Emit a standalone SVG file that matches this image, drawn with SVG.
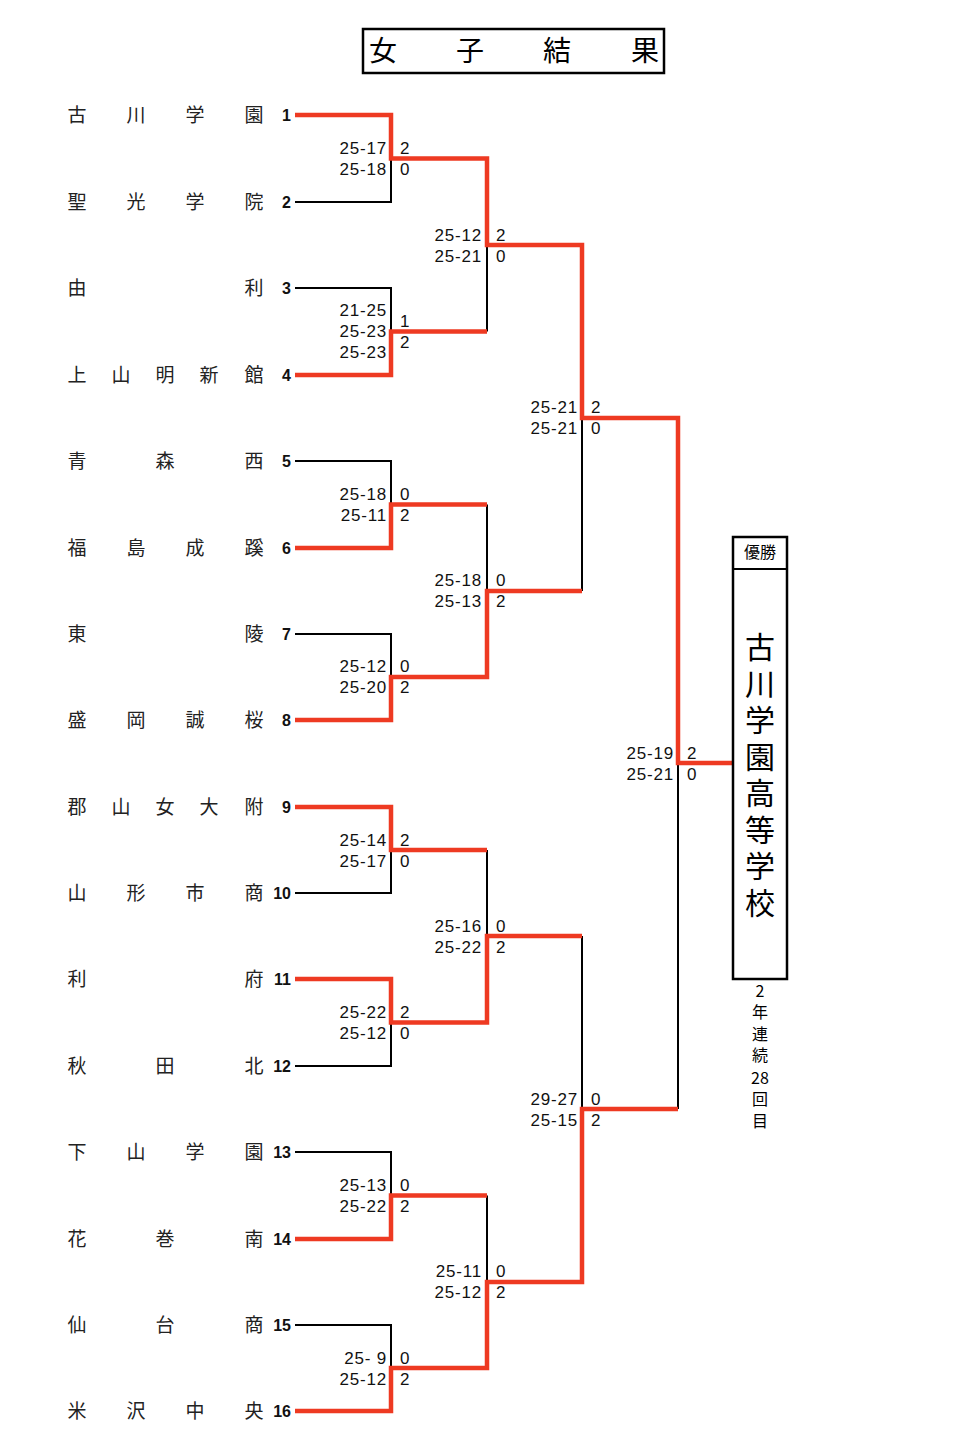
<svg xmlns="http://www.w3.org/2000/svg" width="963" height="1437" viewBox="0 0 963 1437">
<style>
.bg{fill:#fff}
.name{font-family:"Noto Sans CJK JP","Noto Sans CJK SC",sans-serif;font-size:19px;fill:#222;text-anchor:middle}
.num{font-family:"Liberation Sans",Arial,sans-serif;font-size:16px;font-weight:bold;fill:#111;text-anchor:end}
.sc{font-family:"Liberation Sans",Arial,sans-serif;font-size:17px;letter-spacing:0.8px;fill:#111;white-space:pre}
.scl{text-anchor:end}
.title{font-family:"Noto Sans CJK JP",sans-serif;font-size:28px;fill:#000;text-anchor:middle}
.box{fill:none;stroke:#000;stroke-width:2.5}
.win{font-family:"Noto Sans CJK JP",sans-serif;fill:#000;text-anchor:middle}
.vert{font-family:"Noto Sans CJK JP",sans-serif;fill:#000;writing-mode:vertical-rl;text-orientation:upright}
.big{font-size:30px;letter-spacing:6.5px}
.sm{font-size:16px}
.smv{font-size:16px;letter-spacing:5.5px}
.blk{fill:none;stroke:#000;stroke-width:2}
.red{fill:none;stroke:#ee3a22;stroke-width:4.5;stroke-linejoin:miter;stroke-linecap:butt}
</style>
<rect class="bg" x="0" y="0" width="963" height="1437"/>
<g id="title">
<rect class="box" x="363" y="29" width="301" height="44"/>
<text class="title" x="383 470 557 645" y="61">女子結果</text>
</g>
<g id="connectors">
<path class="blk" d="M295,202H391V158.5 M295,288H391V331.5 M295,461H391V504.5 M295,634H391V677 M295,893H391V850 M295,1066H391V1022.5 M295,1152H391V1195.5 M295,1325H391V1368"/>
<path class="blk" d="M487,331.5V245 M487,504.5V591 M487,850V936 M487,1195.5V1282 M582,591V418 M582,936V1109 M678,1109V763"/>
<path class="red" d="M295,115H391V158.5H487V245H582V418H678V763H733"/>
<path class="red" d="M295,375H391V331.5H487"/>
<path class="red" d="M295,548H391V504.5H487"/>
<path class="red" d="M295,720H391V677H487V591H582"/>
<path class="red" d="M295,807H391V850H487"/>
<path class="red" d="M295,979H391V1022.5H487V936H582"/>
<path class="red" d="M295,1239H391V1195.5H487"/>
<path class="red" d="M295,1411H391V1368H487V1282H582V1109H678"/>
</g>
<g id="team1"><text class="name" x="77 136 195 254" y="122">古川学園</text><text class="num" x="291" y="121">1</text></g>
<g id="team2"><text class="name" x="77 136 195 254" y="209">聖光学院</text><text class="num" x="291" y="208">2</text></g>
<g id="team3"><text class="name" x="77 254" y="295">由利</text><text class="num" x="291" y="294">3</text></g>
<g id="team4"><text class="name" x="77 121 165 209 254" y="382">上山明新館</text><text class="num" x="291" y="381">4</text></g>
<g id="team5"><text class="name" x="77 165 254" y="468">青森西</text><text class="num" x="291" y="467">5</text></g>
<g id="team6"><text class="name" x="77 136 195 254" y="555">福島成蹊</text><text class="num" x="291" y="554">6</text></g>
<g id="team7"><text class="name" x="77 254" y="641">東陵</text><text class="num" x="291" y="640">7</text></g>
<g id="team8"><text class="name" x="77 136 195 254" y="727">盛岡誠桜</text><text class="num" x="291" y="726">8</text></g>
<g id="team9"><text class="name" x="77 121 165 209 254" y="814">郡山女大附</text><text class="num" x="291" y="813">9</text></g>
<g id="team10"><text class="name" x="77 136 195 254" y="900">山形市商</text><text class="num" x="291" y="899">10</text></g>
<g id="team11"><text class="name" x="77 254" y="986">利府</text><text class="num" x="291" y="985">11</text></g>
<g id="team12"><text class="name" x="77 165 254" y="1073">秋田北</text><text class="num" x="291" y="1072">12</text></g>
<g id="team13"><text class="name" x="77 136 195 254" y="1159">下山学園</text><text class="num" x="291" y="1158">13</text></g>
<g id="team14"><text class="name" x="77 165 254" y="1246">花巻南</text><text class="num" x="291" y="1245">14</text></g>
<g id="team15"><text class="name" x="77 165 254" y="1332">仙台商</text><text class="num" x="291" y="1331">15</text></g>
<g id="team16"><text class="name" x="77 136 195 254" y="1418">米沢中央</text><text class="num" x="291" y="1417">16</text></g>
<g id="scores">
<text class="sc scl" x="387" y="154">25-17</text><text class="sc scl" x="387" y="175">25-18</text><text class="sc" x="400" y="154">2</text><text class="sc" x="400" y="175">0</text>
<text class="sc scl" x="387" y="316">21-25</text><text class="sc scl" x="387" y="337">25-23</text><text class="sc scl" x="387" y="358">25-23</text><text class="sc" x="400" y="327">1</text><text class="sc" x="400" y="348">2</text>
<text class="sc scl" x="387" y="500">25-18</text><text class="sc scl" x="387" y="521">25-11</text><text class="sc" x="400" y="500">0</text><text class="sc" x="400" y="521">2</text>
<text class="sc scl" x="387" y="672">25-12</text><text class="sc scl" x="387" y="693">25-20</text><text class="sc" x="400" y="672">0</text><text class="sc" x="400" y="693">2</text>
<text class="sc scl" x="387" y="846">25-14</text><text class="sc scl" x="387" y="867">25-17</text><text class="sc" x="400" y="846">2</text><text class="sc" x="400" y="867">0</text>
<text class="sc scl" x="387" y="1018">25-22</text><text class="sc scl" x="387" y="1039">25-12</text><text class="sc" x="400" y="1018">2</text><text class="sc" x="400" y="1039">0</text>
<text class="sc scl" x="387" y="1191">25-13</text><text class="sc scl" x="387" y="1212">25-22</text><text class="sc" x="400" y="1191">0</text><text class="sc" x="400" y="1212">2</text>
<text class="sc scl" x="387" y="1364">25- 9</text><text class="sc scl" x="387" y="1385">25-12</text><text class="sc" x="400" y="1364">0</text><text class="sc" x="400" y="1385">2</text>
<text class="sc scl" x="482" y="241">25-12</text><text class="sc scl" x="482" y="262">25-21</text><text class="sc" x="496" y="241">2</text><text class="sc" x="496" y="262">0</text>
<text class="sc scl" x="482" y="586">25-18</text><text class="sc scl" x="482" y="607">25-13</text><text class="sc" x="496" y="586">0</text><text class="sc" x="496" y="607">2</text>
<text class="sc scl" x="482" y="932">25-16</text><text class="sc scl" x="482" y="953">25-22</text><text class="sc" x="496" y="932">0</text><text class="sc" x="496" y="953">2</text>
<text class="sc scl" x="482" y="1277">25-11</text><text class="sc scl" x="482" y="1298">25-12</text><text class="sc" x="496" y="1277">0</text><text class="sc" x="496" y="1298">2</text>
<text class="sc scl" x="578" y="413">25-21</text><text class="sc scl" x="578" y="434">25-21</text><text class="sc" x="591" y="413">2</text><text class="sc" x="591" y="434">0</text>
<text class="sc scl" x="578" y="1105">29-27</text><text class="sc scl" x="578" y="1126">25-15</text><text class="sc" x="591" y="1105">0</text><text class="sc" x="591" y="1126">2</text>
<text class="sc scl" x="674" y="759">25-19</text><text class="sc scl" x="674" y="780">25-21</text><text class="sc" x="687" y="759">2</text><text class="sc" x="687" y="780">0</text>
</g>
<g id="champion">
<rect class="box" x="733" y="537" width="54" height="442"/>
<line class="blk" x1="733" y1="569" x2="787" y2="569"/>
<text class="win sm" x="760" y="558">優勝</text>
<text class="vert big" x="760" y="632">古川学園高等学校</text>
<text class="win sm" x="760" y="997">2</text>
<text class="vert smv" x="760" y="1004">年連続</text>
<text class="win sm" x="760" y="1084">28</text>
<text class="vert smv" x="760" y="1091">回目</text>
</g>
</svg>
